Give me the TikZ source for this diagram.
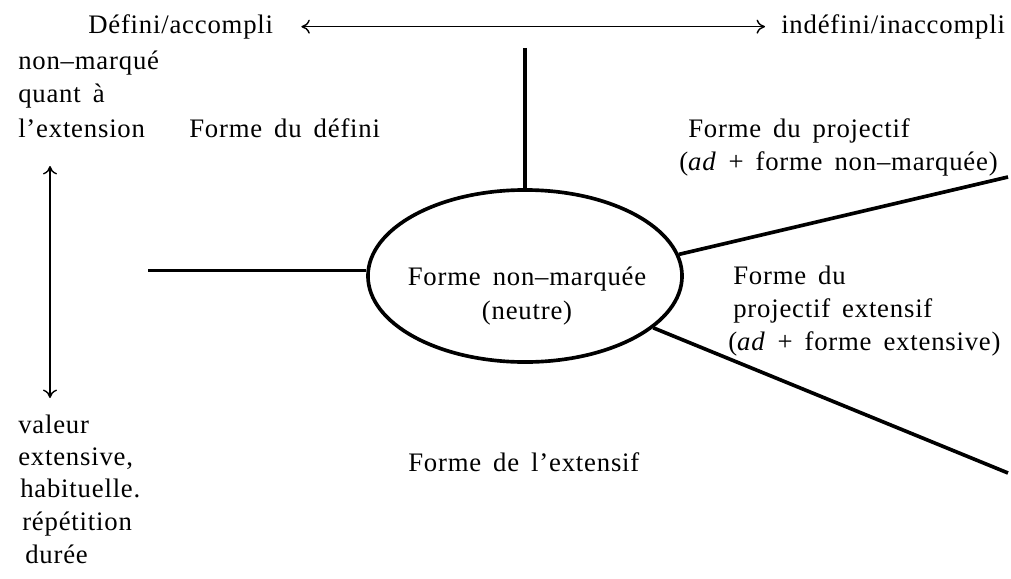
\documentclass[tikz,border=0pt]{standalone}
\usepackage{fontspec}
\setmainfont[LetterSpace=3,WordSpace=1.6]{Liberation Serif}
\usetikzlibrary{arrows.meta,shapes.geometric}
\begin{document}
\begin{tikzpicture}[x=0.025cm,y=-0.025cm,
  txt/.style={font=\fontsize{19}{24}\selectfont, inner sep=0pt, anchor=mid west},
  conn/.style={line width=2.6pt},
  barb/.tip={Computer Modern Rightarrow[length=6pt,width=10pt,line width=1pt]},
  thinarrow/.style={line width=1pt, barb-barb}
]
\useasboundingbox (0,0) rectangle (1011,578);

% texts
\node[txt] (def) at (88,30) {Défini/accompli};
\node[txt] (indef) at (781,30) {indéfini/inaccompli};
\node[txt] (nm1) at (18,66) {non–marqué};
\node[txt] (nm2) at (18,99) {quant à};
\node[txt] (nm3) at (18,134) {l’extension};
\node[txt] (fdef) at (189,134) {Forme du défini};
\node[txt] (fproj1) at (688,134) {Forme du projectif};
\node[txt] (fproj2) at (679,167) {(\textit{ad} + forme non–marquée)};
\node[txt] (fpe1) at (733,281) {Forme du};
\node[txt] (fpe2) at (733,314) {projectif extensif};
\node[txt] (fpe3) at (728,347) {(\textit{ad} + forme extensive)};
\node[txt] (fext) at (408,468) {Forme de l’extensif};
\node[txt] (v1) at (18,430) {valeur};
\node[txt] (v2) at (18,462) {extensive,};
\node[txt] (v3) at (20,494) {habituelle.};
\node[txt] (v4) at (22,527) {répétition};
\node[txt] (v5) at (25,560) {durée};

% central oval and its text
\node[ellipse, draw, conn, minimum width=7.85cm, minimum height=4.3cm, inner sep=0pt]
      (ell) at (525,276) {};
\node[txt, anchor=center, align=center, font=\fontsize{19}{24.5}\selectfont]
      (elltxt) at (527,296) {Forme non–marquée\\(neutre)};

% connector end points
\coordinate (vt) at (525,48);
\coordinate (hl) at (148,272);
\coordinate (ur) at (1008,177);
\coordinate (lr) at (1008,473);
\coordinate (va) at (50,166);
\coordinate (vb) at (50,398);

\draw[conn] (vt) -- (ell.north);
\draw[conn] (ell.178 -| hl) -- (ell.178);
\draw[conn] (ur) -- (ell.8);
\draw[conn] (lr) -- (ell.-22);

\draw[thinarrow] ([xshift=0.7cm]def.east) -- ([xshift=-0.4cm]indef.west);
\draw[thinarrow] (va) -- (vb);
\end{tikzpicture}
\end{document}
